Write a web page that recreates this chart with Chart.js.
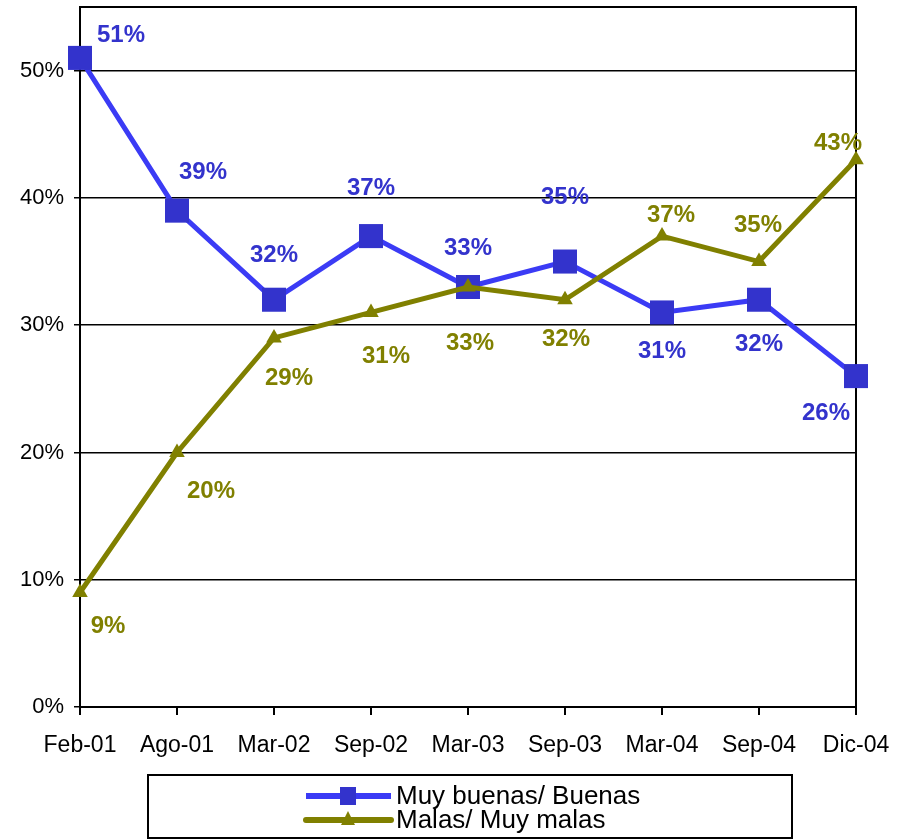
<!DOCTYPE html>
<html>
<head>
<meta charset="utf-8">
<script src="https://cdn.jsdelivr.net/npm/chart.js@4/dist/chart.umd.min.js"></script>
<style>
html,body{margin:0;padding:0;background:#fff;overflow:hidden;}
#wrap{width:909px;height:840px;position:relative;overflow:hidden;}
#c{position:absolute;left:0;top:-10px;}
</style>
</head>
<body>
<div id="wrap"><canvas id="c" width="909" height="850"></canvas></div>
<script>
const categories = ['Feb-01','Ago-01','Mar-02','Sep-02','Mar-03','Sep-03','Mar-04','Sep-04','Dic-04'];
const buenas = [51, 39, 32, 37, 33, 35, 31, 32, 26];
const malas = [9, 20, 29, 31, 33, 32, 37, 35, 43];
const seriesNames = ['Muy buenas/ Buenas', 'Malas/ Muy malas'];
const yTicks = [0, 10, 20, 30, 40, 50];

// label placement offsets (styling only)
const blueOffsets = [[41,-25],[26,-40],[0,-46],[0,-50],[0,-41],[0,-66],[0,37],[0,43],[-30,35]];
const oliveOffsets = [[28,32],[34,37],[15,38],[15,42],[2,54],[1,38],[9,-23],[-1,-38],[-18,-18]];

const BLUE_LINE = '#3B3BF5';
const BLUE_MARK = '#3333CC';
const BLUE_TEXT = '#3333CC';
const OLIVE = '#808000';
const FONT = '"Liberation Sans", Arial, sans-serif';
const SHIFT = 10; // canvas is shifted up by this many px

const labelPlugin = {
  id: 'labels',
  afterDatasetsDraw(chart) {
    const ctx = chart.ctx;
    ctx.save();
    ctx.font = 'bold 24px ' + FONT;
    ctx.textAlign = 'center';
    ctx.textBaseline = 'middle';
    const offs = [blueOffsets, oliveOffsets];
    const cols = [BLUE_TEXT, OLIVE];
    chart.data.datasets.forEach((ds, di) => {
      const meta = chart.getDatasetMeta(di);
      meta.data.forEach((pt, i) => {
        ctx.fillStyle = cols[di];
        ctx.fillText(ds.data[i] + '%', pt.x + offs[di][i][0], pt.y + offs[di][i][1] + 2);
      });
    });
    ctx.restore();
  },
  beforeDatasetsDraw(chart) {
    const {ctx, chartArea: a} = chart;
    ctx.save();
    ctx.strokeStyle = '#000';
    ctx.lineWidth = 2;
    ctx.beginPath();
    ctx.moveTo(a.left, a.top);
    ctx.lineTo(a.right, a.top);
    ctx.lineTo(a.right, a.bottom);
    ctx.stroke();
    ctx.restore();
  },
  afterDraw(chart) {
    const ctx = chart.ctx;
    ctx.save();
    // legend box
    ctx.strokeStyle = '#000';
    ctx.lineWidth = 2;
    ctx.strokeRect(148, 775 + SHIFT, 644, 63);
    ctx.font = '26px ' + FONT;
    ctx.textBaseline = 'middle';
    ctx.textAlign = 'left';
    const rows = [796 + SHIFT, 820 + SHIFT];
    chart.data.datasets.forEach((ds, di) => {
      const y = rows[di];
      ctx.strokeStyle = ds.borderColor;
      ctx.lineWidth = 6;
      ctx.lineCap = di === 1 ? 'round' : 'butt';
      ctx.beginPath();
      ctx.moveTo(306, y);
      ctx.lineTo(391, y);
      ctx.stroke();
      ctx.fillStyle = ds.pointBackgroundColor;
      if (di === 0) {
        ctx.fillRect(340, y - 9, 16, 18);
      } else {
        ctx.beginPath();
        ctx.moveTo(348, y - 9);
        ctx.lineTo(355, y + 5);
        ctx.lineTo(341, y + 5);
        ctx.closePath();
        ctx.fill();
      }
      ctx.fillStyle = '#000';
      ctx.fillText(ds.label, 396, y + 1);
    });
    ctx.restore();
  }
};

new Chart(document.getElementById('c'), {
  type: 'line',
  data: {
    labels: categories,
    datasets: [
      {
        label: seriesNames[0],
        data: buenas,
        borderColor: BLUE_LINE,
        borderWidth: 5,
        pointStyle: 'rect',
        pointRadius: 17,
        pointHoverRadius: 17,
        pointBackgroundColor: BLUE_MARK,
        pointBorderColor: BLUE_MARK,
        pointBorderWidth: 0,
        tension: 0,
        order: 2
      },
      {
        label: seriesNames[1],
        data: malas,
        borderColor: OLIVE,
        borderWidth: 5,
        pointStyle: 'triangle',
        pointRadius: 9,
        pointHoverRadius: 9,
        pointBackgroundColor: OLIVE,
        pointBorderColor: OLIVE,
        pointBorderWidth: 0,
        tension: 0,
        order: 1
      }
    ]
  },
  options: {
    responsive: false,
    animation: false,
    events: [],
    layout: { padding: { top: 17, right: 53, left: 0, bottom: 0 } },
    plugins: { legend: { display: false }, tooltip: { enabled: false } },
    scales: {
      x: {
        offset: false,
        grid: { drawOnChartArea: false, drawTicks: true, tickLength: 8, color: '#000', lineWidth: 2 },
        border: { color: '#000', width: 2 },
        ticks: { color: '#000', font: { family: FONT, size: 23 }, padding: 17, maxRotation: 0, autoSkip: false },
        afterFit(s) { s.height = 133; s.paddingLeft = 0; s.paddingRight = 0; }
      },
      y: {
        min: 0,
        max: 55,
        afterBuildTicks(s) { s.ticks = yTicks.map(v => ({ value: v })); },
        grid: { color: '#000', lineWidth: 1.5, tickLength: 6 },
        border: { color: '#000', width: 2 },
        ticks: { color: '#000', font: { family: FONT, size: 22 }, padding: 10, callback: v => v + '%' },
        afterFit(s) { s.width = 80; s.paddingTop = 0; s.paddingBottom = 0; }
      }
    }
  },
  plugins: [labelPlugin]
});
</script>
</body>
</html>
